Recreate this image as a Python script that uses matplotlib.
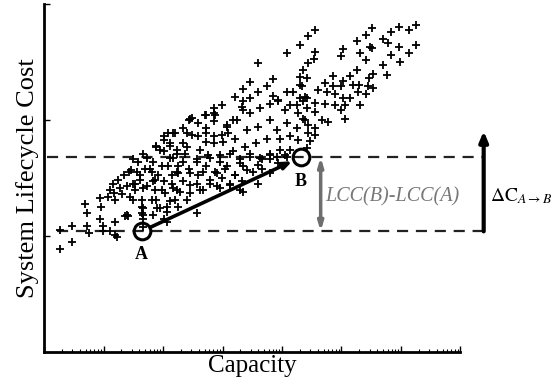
import numpy as np
import matplotlib.pyplot as plt
from matplotlib.ticker import LogLocator, NullLocator

plt.rcParams['font.family'] = ['Liberation Serif', 'DejaVu Serif']
plt.rcParams['mathtext.fontset'] = 'stix'

# candidate designs: (log10 capacity, lifecycle cost)
designs = [
    (0.27, 1.05), (0.47, 1.09), (0.27, 0.89), (0.47, 0.95), (0.69, 1.28), (0.72, 1.20),
    (0.73, 1.09), (0.76, 1.03), (0.94, 1.33), (0.95, 1.25), (0.94, 1.15), (0.99, 1.09),
    (1.08, 1.34), (1.11, 1.40), (1.16, 1.45), (1.18, 1.37), (1.19, 1.31), (1.19, 1.12),
    (1.22, 0.99), (1.11, 1.04), (1.25, 1.48), (1.28, 1.41), (1.31, 1.36), (1.34, 1.53),
    (1.39, 1.43), (1.40, 1.18), (1.43, 1.55), (1.45, 1.34), (1.49, 1.45), (1.53, 1.40),
    (1.57, 1.55), (1.58, 1.64), (1.61, 1.48), (1.64, 1.31), (1.66, 1.24), (1.67, 1.18),
    (1.70, 1.58), (1.73, 1.43), (1.73, 1.67), (1.81, 1.55), (1.84, 1.64), (1.87, 1.48),
    (1.87, 1.40), (1.89, 1.31), (1.90, 1.24), (1.88, 1.78), (1.95, 1.74), (1.98, 1.60),
    (2.01, 1.47), (2.03, 1.37), (2.06, 1.25), (2.01, 1.86), (2.09, 1.89), (2.12, 1.80),
    (2.12, 1.67), (2.15, 1.53), (2.17, 1.41), (2.20, 1.31), (2.23, 1.74), (2.06, 1.12),
    (2.26, 1.60), (1.36, 1.17), (1.41, 1.17), (0.99, 1.04), (1.19, 1.01),
    (1.50, 1.66), (1.67, 1.71), (2.01, 1.73), (2.17, 1.67), (2.37, 1.71), (2.57, 1.66),
    (2.76, 1.70), (2.96, 1.64), (3.13, 1.71), (3.29, 1.66), (3.46, 1.71), (3.66, 1.66),
    (3.80, 1.70), (3.94, 1.63), (4.08, 1.68), (1.47, 1.57), (1.61, 1.53), (1.78, 1.58),
    (1.92, 1.53), (2.09, 1.60), (2.26, 1.54), (2.43, 1.58), (2.59, 1.53), (2.73, 1.60),
    (2.90, 1.54), (3.04, 1.58), (3.21, 1.53), (3.35, 1.60), (3.52, 1.55), (3.66, 1.58),
    (3.80, 1.54), (4.02, 1.60), (1.53, 1.45), (1.67, 1.41), (1.84, 1.47), (1.98, 1.40),
    (2.15, 1.45), (2.29, 1.38), (2.45, 1.44), (2.62, 1.40), (2.79, 1.45), (2.96, 1.41),
    (3.13, 1.45), (3.35, 1.38), (3.60, 1.45), (1.50, 1.31), (1.64, 1.25), (1.81, 1.31),
    (1.95, 1.24), (2.12, 1.30), (2.26, 1.25), (2.40, 1.31), (2.57, 1.20), (1.64, 1.20),
    (1.67, 1.15), (1.84, 1.18), (2.01, 1.15), (2.06, 1.21), (1.67, 1.08),
    (2.99, 2.13), (2.85, 2.06), (2.71, 2.04), (2.85, 1.99), (2.59, 1.97), (2.45, 2.01),
    (2.34, 1.93), (2.20, 1.89), (2.48, 1.87), (2.73, 1.89), (3.07, 1.96), (3.24, 2.00),
    (3.46, 2.06), (3.32, 2.11), (3.63, 2.10), (3.80, 2.14), (3.94, 2.16), (4.05, 2.09),
    (4.13, 2.13), (4.27, 2.06), (4.36, 2.16), (4.39, 2.00), (4.25, 1.93), (4.08, 1.97),
    (3.91, 1.91), (3.80, 2.00), (3.60, 1.94), (3.41, 1.91), (3.21, 1.84), (3.01, 1.81),
    (2.85, 1.80), (2.62, 1.74), (2.40, 1.77), (2.23, 1.71), (2.34, 1.64), (2.57, 1.64),
    (2.79, 1.67), (2.96, 1.70), (3.18, 1.73), (3.38, 1.77), (3.57, 1.80), (3.74, 1.84),
    (3.97, 1.84), (4.13, 1.86), (4.27, 1.83), (4.13, 1.74), (3.97, 1.74), (3.80, 1.71),
    (3.63, 1.67), (3.46, 1.68), (3.29, 1.63), (3.07, 1.60), (2.87, 1.55), (2.68, 1.55),
    (2.45, 1.54), (2.23, 1.55), (2.34, 1.47), (2.57, 1.45), (2.79, 1.48), (2.99, 1.50),
    (3.21, 1.53), (3.41, 1.57), (3.60, 1.61), (3.80, 1.66), (3.91, 1.68), (4.05, 1.70),
    (2.23, 1.40), (2.45, 1.37), (2.68, 1.40), (2.90, 1.43), (3.13, 1.44), (3.32, 1.47),
    (3.29, 1.40),
    (4.44, 2.72), (4.30, 2.65), (4.08, 2.58), (3.60, 2.49), (4.44, 2.49), (4.30, 2.37),
    (4.42, 2.36), (4.30, 2.30), (3.85, 2.35), (3.46, 2.33), (3.35, 2.27), (3.74, 2.29),
    (3.60, 2.24), (3.21, 2.20), (4.08, 2.24), (4.19, 2.24), (3.85, 2.21), (3.46, 2.19),
    (3.35, 2.16), (2.85, 2.10), (2.73, 2.04), (2.87, 2.04), (3.94, 2.17), (4.30, 2.19),
    (4.39, 2.20), (4.25, 2.13), (3.35, 2.09), (2.48, 2.02),
    (4.55, 2.78), (4.55, 2.59), (4.53, 2.53), (5.51, 2.79), (5.26, 2.68), (5.42, 2.73),
    (5.48, 2.63), (5.52, 2.62), (5.31, 2.58), (5.02, 2.61), (5.00, 2.55), (5.41, 2.52),
    (5.70, 2.70), (5.84, 2.76), (5.97, 2.80), (6.14, 2.78), (6.26, 2.82), (5.79, 2.66),
    (5.97, 2.63), (5.84, 2.56), (6.14, 2.58), (6.26, 2.65), (5.98, 2.50), (5.70, 2.47),
    (5.77, 2.39), (5.53, 2.40), (5.47, 2.36), (5.26, 2.43), (5.14, 2.38), (5.03, 2.34),
    (4.85, 2.38), (4.72, 2.32), (4.86, 2.29), (5.00, 2.29), (5.19, 2.30), (5.30, 2.30),
    (5.45, 2.29), (5.53, 2.28), (5.28, 2.24), (5.14, 2.19), (5.03, 2.19), (4.89, 2.22),
    (4.75, 2.24), (4.61, 2.26), (4.33, 2.29), (5.42, 2.22), (5.31, 2.13), (5.06, 2.13),
    (5.00, 2.09), (4.89, 2.13), (4.72, 2.14), (4.55, 2.15), (4.42, 2.19), (4.55, 2.07),
    (4.42, 2.10), (4.67, 2.00), (4.78, 1.98), (5.06, 2.01), (4.55, 1.93), (4.44, 1.89),
    (4.55, 1.87), (4.44, 1.96), (4.36, 2.01), (4.36, 2.43),
    (2.43, 2.00), (2.17, 1.89), (2.01, 1.83), (2.40, 1.89), (2.73, 1.93), (3.07, 1.94),
    (3.18, 2.00), (2.85, 1.86), (2.99, 1.87), (3.10, 1.89), (2.73, 1.81), (2.59, 1.86),
    (2.34, 1.80), (1.89, 1.77), (2.12, 1.78), (4.47, 1.82), (4.42, 1.76),
]

design_a = (1.64, 1.04)
design_b = (4.32, 1.68)
cost_top = 1.905

cap_exp, cost = np.array(designs).T

fig = plt.figure(figsize=(5.53, 3.81), dpi=100)
ax = fig.add_axes([0.0796, 0.0761, 0.7531, 0.9134])

ax.scatter(10 ** cap_exp, cost, marker='+', s=26, c='k', linewidths=1.3, zorder=2)

# reference levels of A and B
x_end = 10 ** 7.39
for x0, y in [(0.22, design_a[1]), (0.05, design_b[1])]:
    ax.plot([10 ** x0, x_end], [y, y], ls=(0, (5, 3.5)), lw=1.6, color='#222222',
            clip_on=False, zorder=1)

ax_, ay = 10 ** design_a[0], design_a[1]
bx, by = 10 ** design_b[0], design_b[1]
ax.annotate('', xy=(bx, by), xytext=(ax_, ay),
            arrowprops=dict(arrowstyle='-|>,head_length=0.5,head_width=0.2',
                            lw=2.6, color='k', shrinkA=7, shrinkB=7), zorder=4)
ax.plot([ax_, bx], [ay, by], 'o', ms=12, mfc='none', mec='k', mew=2.2, zorder=5)
ax.text(ax_, 0.84, 'A', fontsize=13, fontweight='bold', ha='center', va='center')
ax.text(bx, 1.47, 'B', fontsize=13, fontweight='bold', ha='center', va='center')

# difference in lifecycle cost
gx = 10 ** 4.65
ax.annotate('', xy=(gx, ay), xytext=(gx, by), annotation_clip=False,
            arrowprops=dict(arrowstyle='<|-|>,head_length=0.5,head_width=0.15',
                            lw=2.5, color='#6e6e6e', shrinkA=0, shrinkB=0))
ax.text(10 ** 4.72, 1.34, 'LCC(B)-LCC(A)', style='italic', color='#777777',
        fontsize=14.5, ha='left', va='center')

ax.annotate('', xy=(x_end, cost_top), xytext=(x_end, ay), annotation_clip=False,
            arrowprops=dict(arrowstyle='-|>,head_length=0.6,head_width=0.25',
                            lw=3, color='k', shrinkA=0, shrinkB=0))
ax.text(10 ** 7.5, 1.34, r'$\Delta\mathrm{C}_{A\rightarrow B}$', fontsize=14,
        ha='left', va='center', clip_on=False)

ax.set_xscale('log')
ax.set_xlim(1, 1e7)
ax.set_ylim(0, 3)
ax.xaxis.set_minor_locator(LogLocator(base=10, subs=np.arange(2, 10), numticks=100))
ax.set_yticks([1, 2, 3])
ax.yaxis.set_minor_locator(NullLocator())
ax.tick_params(which='both', direction='in', labelbottom=False, labelleft=False)
ax.tick_params(which='major', length=4, width=1)
ax.tick_params(which='minor', length=2, width=0.8)
for side in ['top', 'right']:
    ax.spines[side].set_visible(False)
for side in ['left', 'bottom']:
    ax.spines[side].set_linewidth(2)

ax.set_xlabel('Capacity', fontsize=18)
ax.xaxis.set_label_coords(0.5, -0.01)
ax.set_ylabel('System Lifecycle Cost', fontsize=19)
ax.yaxis.set_label_coords(-0.012, 0.5)

fig.savefig('out.png', dpi=100)
